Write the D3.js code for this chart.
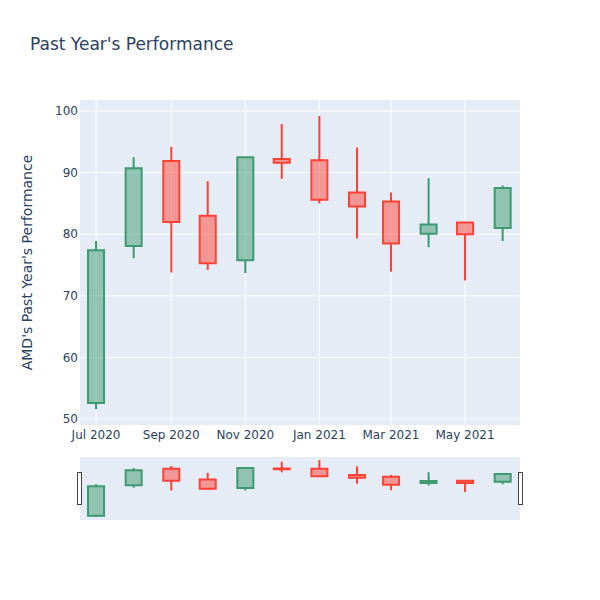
<!DOCTYPE html>
<html>
<head>
<meta charset="utf-8">
<script src="https://cdn.jsdelivr.net/npm/d3@7/dist/d3.min.js"></script>
<style>
  body { margin: 0; background: #fff; }
  text { font-family: "DejaVu Sans", Verdana, sans-serif; }
</style>
</head>
<body>
<svg id="chart" width="600" height="600"></svg>
<script>
// ---- data (monthly candles) ----
const dates = ["2020-07-01","2020-08-01","2020-09-01","2020-10-01","2020-11-01","2020-12-01",
               "2021-01-01","2021-02-01","2021-03-01","2021-04-01","2021-05-01","2021-06-01"];
const open  = [52.6, 78.1, 91.9, 83.0, 75.8, 92.2, 92.0, 86.8, 85.3, 80.1, 81.9, 81.0];
const high  = [78.9, 92.5, 94.2, 88.6, 92.6, 97.9, 99.2, 94.1, 86.8, 89.1, 81.9, 87.9];
const low   = [51.6, 76.1, 73.8, 74.2, 73.7, 89.0, 85.0, 79.3, 73.9, 77.9, 72.5, 78.9];
const close = [77.4, 90.7, 82.0, 75.3, 92.5, 91.6, 85.6, 84.5, 78.5, 81.6, 80.0, 87.5];
const yTicks = [50, 60, 70, 80, 90, 100];
const xTicks = ["2020-07-01","2020-09-01","2020-11-01","2021-01-01","2021-03-01","2021-05-01"];

const title = "Past Year's Performance";
const yTitle = "AMD's Past Year's Performance";

const data = dates.map((d, i) => ({
  date: new Date(d + "T00:00:00Z"), o: open[i], h: high[i], l: low[i], c: close[i]
}));

const svg = d3.select("#chart");
const plot = {left: 80, right: 520, top: 100, bottom: 425};
const slider = {top: 457, bottom: 520};

const x = d3.scaleUtc()
  .domain([new Date("2020-06-17T19:00:00Z"), new Date("2021-06-15T07:00:00Z")])
  .range([plot.left, plot.right]);
const y = d3.scaleLinear().domain([49.03, 101.8]).range([plot.bottom, plot.top]);
const ys = d3.scaleLinear().domain([49.03, 101.8]).range([slider.bottom, slider.top]);

const bg = "#E5ECF6";
const incLine = "#3D9970", decLine = "#FF4136";
const incFill = "rgba(61,153,112,0.5)", decFill = "rgba(255,65,54,0.5)";
const halfW = 6.6 * 24 * 3600 * 1000; // half box width in ms

// background
svg.append("rect").attr("x", plot.left).attr("y", plot.top)
  .attr("width", plot.right - plot.left).attr("height", plot.bottom - plot.top).attr("fill", bg);

// grid
const grid = svg.append("g");
yTicks.forEach(t => {
  grid.append("line").attr("x1", plot.left).attr("x2", plot.right)
    .attr("y1", y(t)).attr("y2", y(t)).attr("stroke", "#fff").attr("stroke-width", 1);
});
xTicks.forEach(t => {
  const xv = x(new Date(t + "T00:00:00Z"));
  grid.append("line").attr("x1", xv).attr("x2", xv)
    .attr("y1", plot.top).attr("y2", plot.bottom).attr("stroke", "#fff").attr("stroke-width", 1);
});

// candles
function drawCandles(g, yScale) {
  data.forEach(d => {
    const inc = d.c >= d.o;
    const line = inc ? incLine : decLine;
    const fill = inc ? incFill : decFill;
    const xc = x(d.date);
    const x0 = x(new Date(+d.date - halfW)), x1 = x(new Date(+d.date + halfW));
    const top = yScale(Math.max(d.o, d.c)), bot = yScale(Math.min(d.o, d.c));
    const path = `M${x0},${bot}H${x1}V${top}H${x0}Z` +
      `M${xc},${top}V${yScale(d.h)}M${xc},${bot}V${yScale(d.l)}`;
    g.append("path").attr("d", path).attr("fill", fill).attr("stroke", line)
      .attr("stroke-width", 2).attr("stroke-linejoin", "miter");
  });
}
drawCandles(svg.append("g"), y);

// y tick labels
const tickColor = "#2a3f5f";
yTicks.forEach(t => {
  svg.append("text").attr("x", plot.left - 2).attr("y", y(t)).attr("dy", "0.35em")
    .attr("text-anchor", "end").attr("font-size", 12).attr("fill", tickColor).text(t);
});
// x tick labels
const fmt = d3.utcFormat("%b %Y");
xTicks.forEach(t => {
  const dt = new Date(t + "T00:00:00Z");
  svg.append("text").attr("x", x(dt)).attr("y", 439)
    .attr("text-anchor", "middle").attr("font-size", 12).attr("fill", tickColor).text(fmt(dt));
});

// titles
svg.append("text").attr("x", 30).attr("y", 50).attr("font-size", 17)
  .attr("fill", tickColor).text(title);
svg.append("text").attr("transform", `translate(32,${(plot.top + plot.bottom) / 2}) rotate(-90)`)
  .attr("text-anchor", "middle").attr("font-size", 14).attr("fill", tickColor).text(yTitle);

// range slider
svg.append("rect").attr("x", plot.left).attr("y", slider.top)
  .attr("width", plot.right - plot.left).attr("height", slider.bottom - slider.top).attr("fill", bg);
const sg = svg.append("g");
const clipId = "sliderClip";
svg.append("clipPath").attr("id", clipId).append("rect")
  .attr("x", plot.left).attr("y", slider.top)
  .attr("width", plot.right - plot.left).attr("height", slider.bottom - slider.top);
sg.attr("clip-path", `url(#${clipId})`);
drawCandles(sg, ys);

const hh = 32, hw = 4;
const hy = (slider.top + slider.bottom) / 2 - hh / 2;
[plot.left - 2.5, plot.right - 1.5].forEach(hx => {
  svg.append("rect").attr("x", hx).attr("y", hy).attr("width", hw).attr("height", hh)
    .attr("fill", "#fff").attr("stroke", "#444").attr("stroke-width", 1);
});
</script>
</body>
</html>
